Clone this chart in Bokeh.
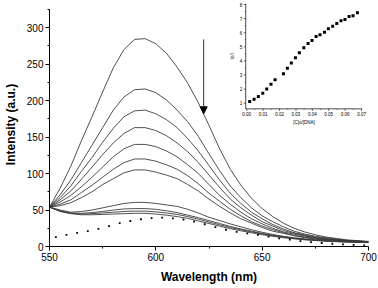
from math import pi
from bokeh.plotting import figure
from bokeh.models import Range1d, FixedTicker, Arrow, NormalHead
from bokeh.core.properties import value
from bokeh.embed import file_html
from bokeh.resources import INLINE

# ---------------- data ----------------
wavelength = [550, 555, 560, 565, 570, 575, 580, 585, 590, 595, 600, 605, 610, 615, 620,
              625, 630, 635, 640, 645, 650, 655, 660, 665, 670, 675, 680, 685, 690, 695, 700]

int_1 = [54, 80, 110, 145, 178, 212, 245, 270, 284, 285, 278, 265, 246, 224, 197, 166, 134, 106,
         84, 66, 52, 41, 32, 25, 20, 16, 13, 11, 9, 8, 7]
int_2 = [54, 71, 91, 115, 139, 163, 187, 205, 215, 216, 211, 201, 187, 171, 151, 127, 104, 83,
         67, 53, 42, 34, 27, 21, 17, 14, 12, 10, 8.5, 7.5, 6.7]
int_3 = [54, 67, 83, 103, 122, 143, 162, 178, 186, 187, 182, 174, 163, 148, 131, 111, 91, 73,
         59, 47, 38, 30, 24, 19, 16, 13, 11, 9.5, 8, 7.3, 6.6]
int_4 = [54, 64, 76, 92, 109, 126, 142, 155, 163, 163, 159, 152, 142, 130, 115, 98, 81, 65,
         53, 43, 34, 28, 22, 18, 15, 12, 10, 9, 8, 7.2, 6.5]
int_5 = [54, 61, 70, 82, 95, 109, 123, 134, 140, 140, 137, 131, 123, 112, 100, 85, 70, 58,
         47, 38, 31, 25, 20, 17, 14, 11.5, 10, 8.7, 7.7, 7, 6.4]
int_6 = [54, 58, 64, 74, 84, 95, 106, 115, 120, 120, 117, 112, 106, 97, 86, 73, 62, 51,
         42, 34, 28, 23, 19, 15, 13, 11, 9.3, 8.4, 7.5, 6.9, 6.3]
int_7 = [54, 56, 60, 67, 75, 85, 93, 101, 105, 105, 102, 98, 93, 85, 76, 65, 55, 46,
         38, 32, 26, 21, 18, 15, 12, 10, 9, 8.2, 7.4, 6.8, 6.2]
int_8 = [54, 50, 47, 48, 50, 53, 56, 59, 60.5, 60.5, 59, 57, 55, 51, 46, 40, 35.6, 31,
         27, 23, 19.5, 16.5, 14, 12, 10.5, 9, 8, 7.5, 7, 6.5, 6]
int_9 = [54, 49, 46, 45.5, 46.5, 48, 50, 51.5, 52, 52, 51, 49, 46.5, 43, 39.5, 35.5, 31.5, 27.5,
         24, 21, 18, 15.5, 13.3, 11.5, 10, 8.8, 7.8, 7, 6.5, 6, 5.7]
int_10 = [54, 48.5, 45.5, 44.5, 45, 46, 47, 48, 48.5, 48.5, 47.5, 46, 44, 41, 37.5, 33.5, 29.8, 26,
          23, 20, 17.2, 14.8, 12.8, 11, 9.6, 8.5, 7.5, 6.8, 6.2, 5.8, 5.5]
int_11 = [54, 48, 45, 43.5, 43.5, 44, 44.5, 45, 45.5, 45.5, 44.5, 43, 41, 38.5, 35, 31.5, 28, 24.5,
          21.5, 18.8, 16.2, 14, 12, 10.5, 9.2, 8.2, 7.3, 6.6, 6, 5.6, 5.3]
curves = [int_1, int_2, int_3, int_4, int_5, int_6, int_7, int_8, int_9, int_10, int_11]

dot_wavelength = [553, 558, 563, 568, 573, 578, 583, 588, 593, 598, 603, 608, 613, 618, 623,
                  628, 633, 638, 643, 648, 653, 658, 663, 668, 673, 678, 683, 688, 693, 698]
dot_intensity = [12.8, 16, 18.7, 21, 24.2, 28, 32, 35, 37.4, 39, 39.5, 38.5, 37, 34, 30.5,
                 26.5, 23, 20, 18, 16, 13.5, 11.2, 9.6, 7.5, 6, 4.8, 3.8, 3, 2.3, 1.6]

x_ticks = [550, 600, 650, 700]
x_minor = [575, 625, 675]
y_ticks = [0, 50, 100, 150, 200, 250, 300]
y_minor = [25, 75, 125, 175, 225, 275, 325]
y_axis_bounds = (0, 325)

arrow_x = 622.5
arrow_y = [284, 182]

# inset
ratio = [0.0018, 0.0045, 0.0071, 0.0098, 0.0122, 0.0148, 0.0173, 0.0224, 0.0248, 0.0272,
         0.0297, 0.0321, 0.0348, 0.0374, 0.0398, 0.0423, 0.0447, 0.0474, 0.0498, 0.0524,
         0.0549, 0.0575, 0.0599, 0.0624, 0.0648, 0.0675]
i0_i = [1.12, 1.28, 1.48, 1.71, 2.0, 2.35, 2.66, 3.08, 3.48, 3.86,
        4.22, 4.57, 4.93, 5.23, 5.45, 5.73, 5.85, 6.04, 6.28, 6.46,
        6.65, 6.84, 6.94, 7.15, 7.2, 7.41]
inset_x_ticks = [0.0, 0.01, 0.02, 0.03, 0.04, 0.05, 0.06, 0.07]
inset_x_labels = ["0.00", "0.01", "0.02", "0.03", "0.04", "0.05", "0.06", "0.07"]
inset_x_minor = [0.005, 0.015, 0.025, 0.035, 0.045, 0.055, 0.065]
inset_y_ticks = [1, 2, 3, 4, 5, 6, 7, 8]
inset_y_labels = ["1", "2", "3", "4", "5", "6", "7", "8"]
inset_y_minor = [1.5, 2.5, 3.5, 4.5, 5.5, 6.5, 7.5]
inset_x_bounds = (-0.0006, 0.0704)
inset_y_bounds = (0.6, 8.05)

FONT = "Liberation Sans"

p = figure(width=378, height=288, x_range=Range1d(550, 700), y_range=Range1d(0, 334.6),
           output_backend="svg", toolbar_location=None,
           min_border_left=49, min_border_right=10, min_border_top=2, min_border_bottom=42)
p.outline_line_color = None
p.grid.visible = False
p.background_fill_color = "white"
p.border_fill_color = "white"

p.xaxis.ticker = FixedTicker(ticks=x_ticks, minor_ticks=x_minor)
p.yaxis.ticker = FixedTicker(ticks=y_ticks, minor_ticks=y_minor)
p.yaxis.bounds = y_axis_bounds
p.xaxis.axis_label = "Wavelength (nm)"
p.yaxis.axis_label = "Intensity (a.u.)"
for ax in (p.xaxis[0], p.yaxis[0]):
    ax.axis_line_color = "black"
    ax.axis_line_width = 1
    ax.major_tick_line_color = "black"
    ax.minor_tick_line_color = "black"
    ax.major_tick_in = 0
    ax.major_tick_out = 4
    ax.minor_tick_in = 0
    ax.minor_tick_out = 2
    ax.major_label_text_font = FONT
    ax.major_label_text_font_size = "10px"
    ax.major_label_text_color = "black"
    ax.major_label_standoff = 2
    ax.axis_label_text_font = FONT
    ax.axis_label_text_font_size = "12px"
    ax.axis_label_text_font_style = "bold"
    ax.axis_label_text_color = "black"
    ax.axis_label_standoff = 6

for c in curves:
    p.line(wavelength, c, line_color="#3c3c3c", line_width=0.9)

p.scatter(dot_wavelength, dot_intensity, marker="square", size=1.8,
          fill_color="black", line_color=None)

p.add_layout(Arrow(end=NormalHead(size=7, fill_color="black", line_color="black"),
                   x_start=arrow_x, y_start=arrow_y[0], x_end=arrow_x, y_end=arrow_y[1],
                   line_color="#333333", line_width=1))

# ---------------- inset (extra ranges on the same canvas) ----------------
p.extra_x_ranges = {"ix": Range1d(-0.12022, 0.07424)}
p.extra_y_ranges = {"iy": Range1d(-9.163, 8.142)}
kw = dict(x_range_name="ix", y_range_name="iy")
x0, x1 = inset_x_bounds
y0, y1 = inset_y_bounds

p.segment(x0=[x0, x0], y0=[y0, y0], x1=[x0, x1], y1=[y1, y0],
          line_color="black", line_width=0.7, **kw)
p.ray(x=[x0] * len(inset_y_ticks), y=inset_y_ticks, length=2, angle=pi,
      length_units="screen", line_color="black", line_width=0.6, **kw)
p.ray(x=[x0] * len(inset_y_minor), y=inset_y_minor, length=1, angle=pi,
      length_units="screen", line_color="black", line_width=0.5, **kw)
p.ray(x=inset_x_ticks, y=[y0] * len(inset_x_ticks), length=2, angle=-pi / 2,
      length_units="screen", line_color="black", line_width=0.6, **kw)
p.ray(x=inset_x_minor, y=[y0] * len(inset_x_minor), length=1, angle=-pi / 2,
      length_units="screen", line_color="black", line_width=0.5, **kw)

p.text(x=[x0] * len(inset_y_ticks), y=inset_y_ticks, text=inset_y_labels,
       x_offset=-3.5, text_align="right", text_baseline="middle",
       text_font=value(FONT), text_font_size="4.5px", text_color="black", **kw)
p.text(x=inset_x_ticks, y=[y0] * len(inset_x_ticks), text=inset_x_labels,
       y_offset=3, text_align="center", text_baseline="top",
       text_font=value(FONT), text_font_size="4.5px", text_color="black", **kw)
p.text(x=[(x0 + x1) / 2], y=[y0], text=["[C]o/[DNA]"], y_offset=11,
       text_align="center", text_baseline="top",
       text_font=value(FONT), text_font_size="4.5px", text_color="black", **kw)
p.text(x=[x0], y=[(y0 + y1) / 2], text=["Io/I"], x_offset=-11, angle=pi / 2,
       text_align="center", text_baseline="bottom",
       text_font=value(FONT), text_font_size="4.5px", text_color="black", **kw)

p.scatter(ratio, i0_i, marker="square", size=3, fill_color="black", line_color=None, **kw)

open("out.html", "w").write(file_html(p, INLINE))
